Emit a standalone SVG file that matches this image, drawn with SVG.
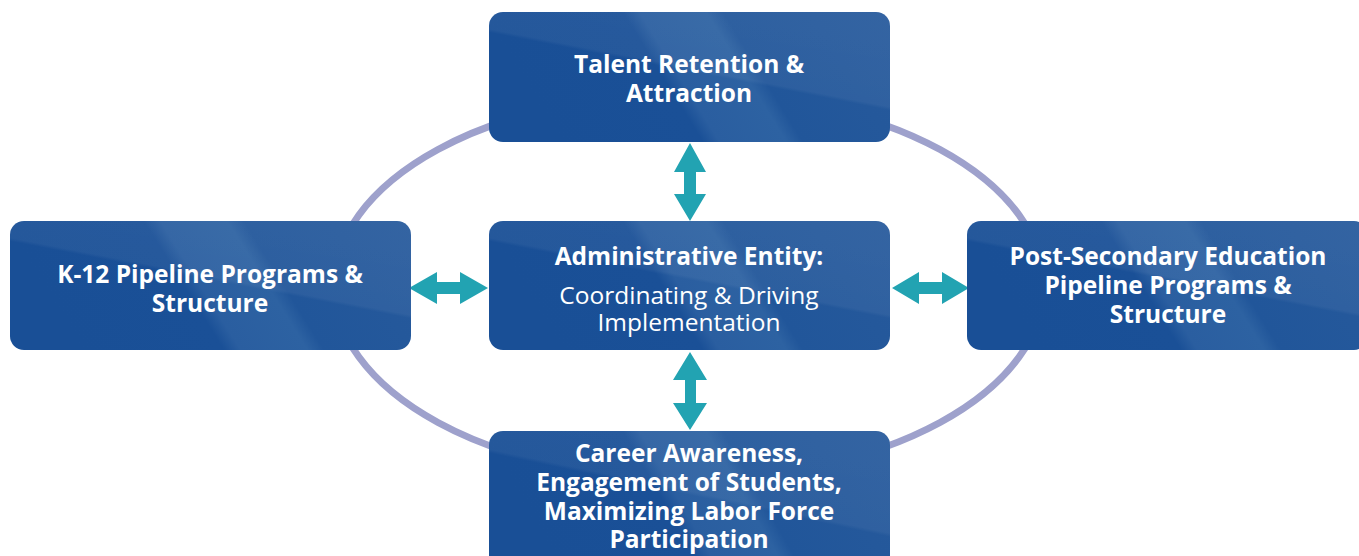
<svg xmlns="http://www.w3.org/2000/svg" width="1359" height="556" viewBox="0 0 1359 556">
  <defs>
    <!-- blue box fill: dark left, lighter steep band, lighter right -->
    <linearGradient id="boxGrad" x1="0" y1="0.1" x2="1" y2="-0.1">
      <stop offset="0" stop-color="#194f96"/>
      <stop offset="0.34" stop-color="#1a5097"/>
      <stop offset="0.38" stop-color="#2a5ea0"/>
      <stop offset="0.54" stop-color="#2d62a2"/>
      <stop offset="0.58" stop-color="#21569a"/>
      <stop offset="1" stop-color="#275a9c"/>
    </linearGradient>
    <!-- shallow diagonal highlight toward the top right -->
    <linearGradient id="sheen" x1="0" y1="1" x2="0.6" y2="0">
      <stop offset="0" stop-color="#ffffff" stop-opacity="0"/>
      <stop offset="0.62" stop-color="#ffffff" stop-opacity="0"/>
      <stop offset="0.64" stop-color="#ffffff" stop-opacity="0.05"/>
      <stop offset="1" stop-color="#ffffff" stop-opacity="0.06"/>
    </linearGradient>
  </defs>
  <style>
    .box { fill: url(#boxGrad); }
    .box2 { fill: url(#sheen); }
    .ring { fill: none; stroke: #9ea1cc; stroke-width: 7; }
    .arrow { fill: #22a3b2; }
    text { font-family: "Open Sans", "Liberation Sans", sans-serif; fill: #ffffff; text-anchor: middle; font-size: 24.5px; }
    .b { font-weight: 700; }
    .r { font-weight: 400; }
  </style>

  <rect width="1359" height="556" fill="#ffffff"/>

  <!-- connectors -->
  <g id="connectors">
    <ellipse class="ring" cx="689" cy="286" rx="355" ry="193"/>
    <!-- center to top -->
    <polygon class="arrow" points="690,143 706,172 696,172 696,194 706,194 690,221 674,194 684,194 684,172 674,172"/>
    <!-- center to bottom -->
    <polygon class="arrow" points="690,352 707,380 696,380 696,403 707,403 690,430 673,403 685,403 685,380 673,380"/>
    <!-- center to left -->
    <polygon class="arrow" points="409,288 437,272 437,282 460,282 460,272 488,288 460,304 460,294 437,294 437,304"/>
    <!-- center to right -->
    <polygon class="arrow" points="892,288 919,272 919,282 942,282 942,272 969,288 942,304 942,294 919,294 919,304"/>
  </g>

  <g id="node-top">
    <rect class="box" x="489" y="12" width="401" height="130" rx="14"/>
    <rect class="box2" x="489" y="12" width="401" height="130" rx="14"/>
    <text class="b" x="689" y="73">Talent Retention &amp;</text>
    <text class="b" x="689" y="102">Attraction</text>
  </g>

  <g id="node-left">
    <rect class="box" x="10" y="221" width="401" height="129" rx="14"/>
    <rect class="box2" x="10" y="221" width="401" height="129" rx="14"/>
    <text class="b" x="210" y="283">K-12 Pipeline Programs &amp;</text>
    <text class="b" x="210" y="312">Structure</text>
  </g>

  <g id="node-center">
    <rect class="box" x="489" y="221" width="401" height="129" rx="14"/>
    <rect class="box2" x="489" y="221" width="401" height="129" rx="14"/>
    <text class="b" x="689" y="265">Administrative Entity:</text>
    <text class="r" x="689" y="304">Coordinating &amp; Driving</text>
    <text class="r" x="689" y="331">Implementation</text>
  </g>

  <g id="node-right">
    <rect class="box" x="967" y="221" width="401" height="129" rx="14"/>
    <rect class="box2" x="967" y="221" width="401" height="129" rx="14"/>
    <text class="b" x="1168" y="265">Post-Secondary Education</text>
    <text class="b" x="1168" y="294">Pipeline Programs &amp;</text>
    <text class="b" x="1168" y="323">Structure</text>
  </g>

  <g id="node-bottom">
    <rect class="box" x="489" y="431" width="401" height="140" rx="14"/>
    <rect class="box2" x="489" y="431" width="401" height="140" rx="14"/>
    <text class="b" x="689" y="462">Career Awareness,</text>
    <text class="b" x="689" y="491">Engagement of Students,</text>
    <text class="b" x="689" y="520">Maximizing Labor Force</text>
    <text class="b" x="689" y="548">Participation</text>
  </g>
</svg>
